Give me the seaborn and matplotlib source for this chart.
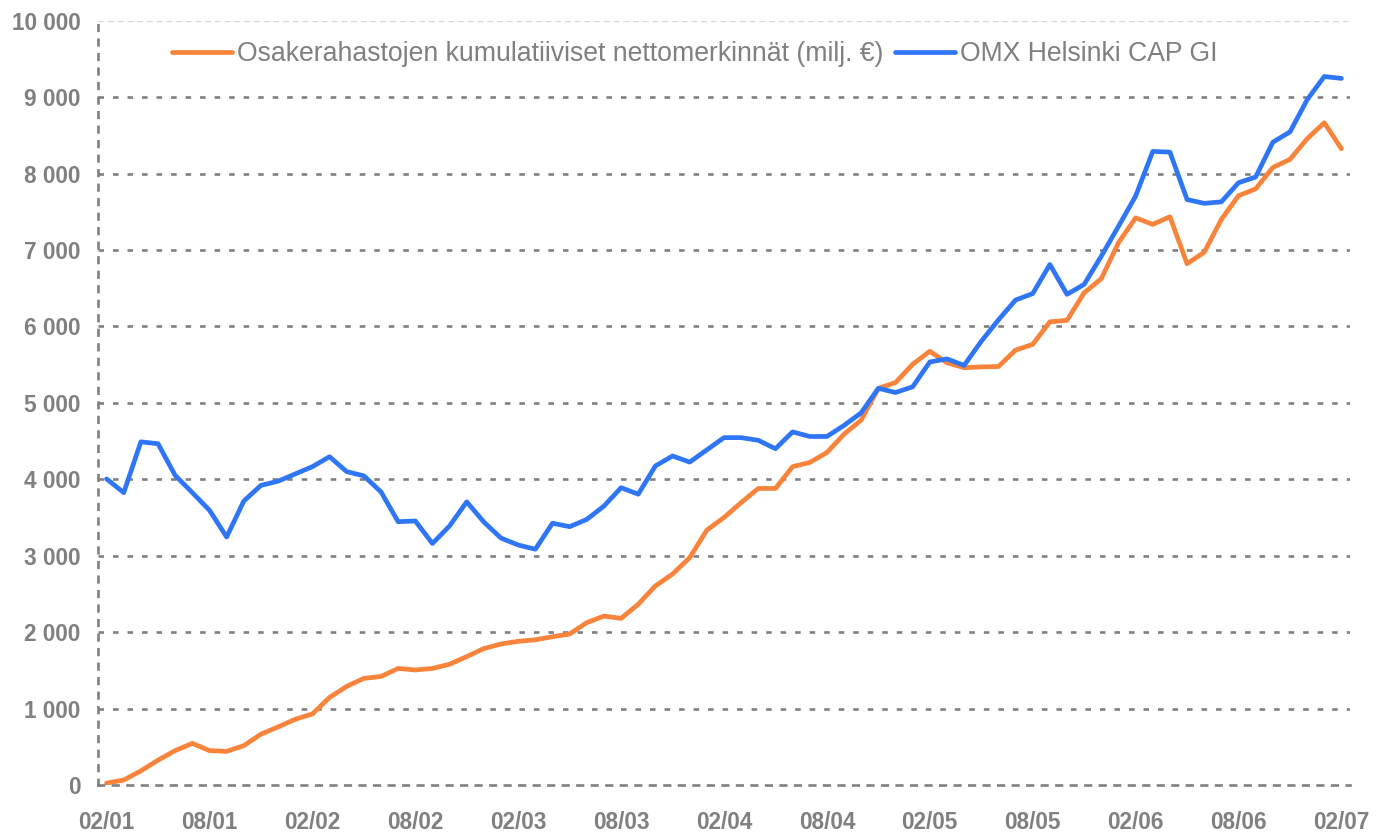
import matplotlib
matplotlib.use('Agg')
import matplotlib.pyplot as plt
import numpy as np
import pandas as pd
import seaborn as sns
from matplotlib.ticker import FuncFormatter, FixedLocator

# Monthly observations 02/2001 .. 02/2007
months = pd.date_range('2001-02-01', '2007-02-01', freq='MS')
month_labels = [d.strftime('%m/%y') for d in months]

series_names = ['Osakerahastojen kumulatiiviset nettomerkinnät (milj. €)',
                'OMX Helsinki CAP GI']

# Cumulative net subscriptions of equity funds (MEUR)
net_flows = [
    25, 65, 185, 325, 450, 545, 450, 440, 515, 665,
    760, 860, 930, 1145, 1290, 1395, 1420, 1525, 1505, 1525,
    1580, 1680, 1785, 1845, 1880, 1900, 1940, 1975, 2125, 2210,
    2180, 2365, 2605, 2760, 2975, 3335, 3500, 3695, 3880, 3880,
    4165, 4220, 4350, 4590, 4775, 5190, 5265, 5505, 5675, 5525,
    5460, 5470, 5475, 5690, 5765, 6060, 6080, 6440, 6625, 7095,
    7420, 7335, 7435, 6820, 6970, 7400, 7710, 7800, 8080, 8185,
    8455, 8665, 8325,
]

# OMX Helsinki CAP GI (scaled to the same axis)
omx_index = [
    4005, 3825, 4490, 4465, 4050, 3825, 3595, 3245, 3715, 3920,
    3975, 4070, 4165, 4295, 4100, 4045, 3835, 3445, 3455, 3160,
    3390, 3705, 3440, 3230, 3140, 3085, 3425, 3380, 3475, 3650,
    3890, 3805, 4175, 4305, 4225, 4385, 4545, 4545, 4510, 4400,
    4620, 4560, 4560, 4705, 4870, 5190, 5135, 5210, 5535, 5575,
    5490, 5805, 6085, 6345, 6430, 6810, 6420, 6550, 6920, 7310,
    7705, 8290, 8280, 7660, 7610, 7630, 7880, 7955, 8410, 8545,
    8965, 9270, 9245,
]

ORANGE = '#F8833A'
BLUE = '#2F76F6'
GRAY = '#808080'

df = pd.DataFrame({'pos': np.arange(len(months)),
                   series_names[0]: net_flows,
                   series_names[1]: omx_index})
long_df = df.melt(id_vars='pos', var_name='series', value_name='value')

sns.set_style('white')
plt.rcParams['font.family'] = ['Liberation Sans', 'DejaVu Sans']

fig = plt.figure(figsize=(13.83, 8.34), dpi=100)
ax = fig.add_axes([98 / 1383, 49 / 834, 1252 / 1383, 764.3 / 834])

sns.lineplot(data=long_df, x='pos', y='value', hue='series',
             hue_order=series_names, palette=[ORANGE, BLUE],
             linewidth=3.4, legend=False, ax=ax,
             solid_capstyle='round', solid_joinstyle='round')

ax.set_xlim(-0.5, len(months) - 0.5)
ax.set_ylim(0, 10000)
ax.set_xlabel('')
ax.set_ylabel('')

# grid + axis lines in gray dashes
dash = (0, (2.1, 3.4))
ax.set_yticks(np.arange(0, 10001, 1000))
ax.yaxis.set_major_formatter(FuncFormatter(lambda v, p: f'{int(v):,}'.replace(',', ' ')))
ax.yaxis.grid(True, color=GRAY, linestyle=dash, linewidth=1.9)
ax.xaxis.grid(False)
grid_lines = ax.get_ygridlines()
grid_lines[0].set_visible(False)
grid_lines[-1].set_color('#d9d9d9')
grid_lines[-1].set_linewidth(1.0)
grid_lines[-1].set_linestyle((0, (4, 3)))

for side in ['top', 'right']:
    ax.spines[side].set_visible(False)
for side in ['left', 'bottom']:
    ax.spines[side].set_color(GRAY)
    ax.spines[side].set_linewidth(1.9)
    ax.spines[side].set_linestyle(dash)

# x ticks: marks between months, labels every 6 months at the month
ax.xaxis.set_major_locator(FixedLocator(np.arange(-0.5, len(months) - 1, 6)))
ax.xaxis.set_major_formatter(FuncFormatter(lambda v, p: ''))
ax.xaxis.set_minor_locator(FixedLocator(np.arange(0, len(months), 6)))
ax.xaxis.set_minor_formatter(FuncFormatter(lambda v, p: month_labels[int(round(v))]))
ax.tick_params(axis='x', which='major', length=5.5, width=1.4, color=GRAY, direction='out')
ax.tick_params(axis='x', which='minor', length=0, pad=19, labelsize=16.3, labelcolor=GRAY)
ax.tick_params(axis='y', length=5.5, width=1.9, color=GRAY, pad=7, labelsize=16.3, labelcolor=GRAY)
for lbl in ax.get_xticklabels(minor=True) + ax.get_yticklabels():
    lbl.set_fontweight('bold')

leg = ax.legend(ax.get_lines()[:2], series_names, loc='center left',
                bbox_to_anchor=(172 / 1383, 1 - 54 / 834), bbox_transform=fig.transFigure,
                ncol=2, frameon=False, fontsize=19.2, handlelength=2.25,
                handletextpad=0.2, columnspacing=0.42, borderpad=0, borderaxespad=0)
for t in leg.get_texts():
    t.set_color(GRAY)

fig.savefig('out.png', dpi=100)
